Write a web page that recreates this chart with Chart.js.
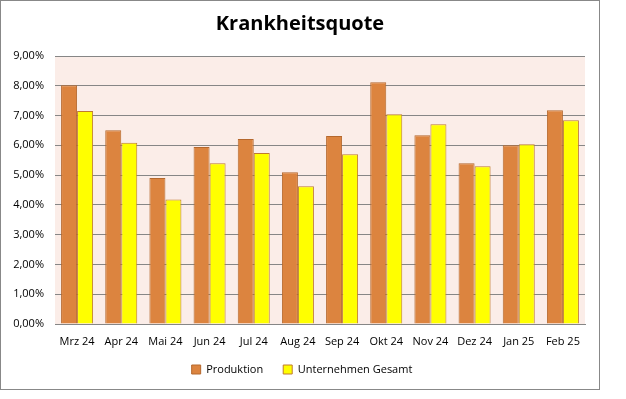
<!DOCTYPE html>
<html>
<head>
<meta charset="utf-8">
<script src="https://cdn.jsdelivr.net/npm/chart.js@4"></script>
<style>
    body { margin: 0; background: #fff; }
    #wrap { position: absolute; left: 0; top: 0; width: 598px; height: 388px; border: 1px solid #888888; }
</style>
</head>
<body>
<div id="wrap"><canvas id="chart" width="598" height="388"></canvas></div>
<script>
const months = ['Mrz 24', 'Apr 24', 'Mai 24', 'Jun 24', 'Jul 24', 'Aug 24', 'Sep 24', 'Okt 24', 'Nov 24', 'Dez 24', 'Jan 25', 'Feb 25'];
const produktion = [8.02, 6.51, 4.90, 5.94, 6.21, 5.10, 6.31, 8.12, 6.34, 5.40, 6.00, 7.18];
const unternehmen = [7.15, 6.09, 4.18, 5.40, 5.74, 4.63, 5.70, 7.04, 6.71, 5.30, 6.04, 6.84];

const axisFont = { family: 'Open Sans', size: 11 };

// pink plot background
const plotBg = {
    id: 'plotBg',
    beforeDraw(chart) {
        const a = chart.chartArea;
        const c = chart.ctx;
        c.save();
        c.fillStyle = '#fbede8';
        c.fillRect(a.left, a.top, a.right - a.left, a.bottom - a.top);
        c.restore();
    }
};

// title and legend are centred on the whole frame, not on the padded box
const nudge = {
    id: 'nudge',
    afterLayout(chart) {
        const t = chart.titleBlock;
        t.left += 7; t.right += 7;
        const l = chart.legend;
        l.left += 9; l.right += 9;
        l.top -= 4; l.bottom -= 4;
    }
};

const ctx = document.getElementById('chart').getContext('2d');
new Chart(ctx, {
    type: 'bar',
    data: {
        labels: months,
        datasets: [
            {
                label: 'Produktion',
                data: produktion,
                backgroundColor: '#dc843f',
                borderColor: '#b5682d',
                borderWidth: 1
            },
            {
                label: 'Unternehmen Gesamt',
                data: unternehmen,
                backgroundColor: '#ffff00',
                borderColor: '#bf7a30',
                borderWidth: 1
            }
        ]
    },
    options: {
        responsive: false,
        animation: false,
        layout: { padding: { left: 0, right: 14, top: 0, bottom: 0 } },
        datasets: { bar: { barPercentage: 1, categoryPercentage: 0.725 } },
        plugins: {
            title: {
                display: true,
                text: 'Krankheitsquote',
                color: '#000',
                font: { family: 'Open Sans', size: 20, weight: 'bold' },
                padding: { top: 11, bottom: 20 }
            },
            legend: {
                position: 'bottom',
                labels: {
                    color: '#000',
                    font: axisFont,
                    boxWidth: 9,
                    boxHeight: 9,
                    padding: 20
                }
            },
            tooltip: { enabled: false }
        },
        scales: {
            x: {
                grid: { display: false, drawTicks: false },
                border: { color: '#868686' },
                ticks: { color: '#000', font: axisFont, padding: 11, maxRotation: 0 },
                afterFit: (s) => { s.height = 24; }
            },
            y: {
                min: 0,
                max: 9,
                grid: { color: '#868686', drawTicks: false },
                border: { display: false },
                ticks: {
                    stepSize: 1,
                    color: '#000',
                    font: axisFont,
                    padding: 11,
                    callback: (v) => v.toFixed(2).replace('.', ',') + '%'
                },
                afterFit: (s) => { s.width = 54; }
            }
        }
    },
    plugins: [plotBg, nudge]
});
</script>
</body>
</html>
